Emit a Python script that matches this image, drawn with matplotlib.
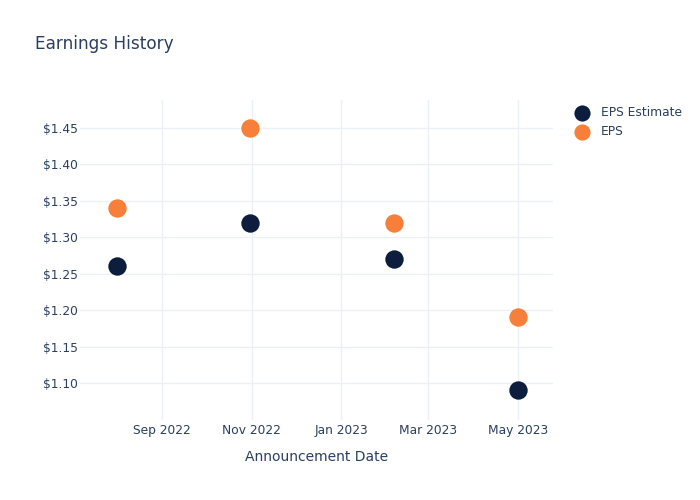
import matplotlib
matplotlib.use("Agg")
import matplotlib.pyplot as plt
import matplotlib.dates as mdates
import datetime as dt

dates = ["2022-08-01", "2022-10-31", "2023-02-06", "2023-05-01"]
eps_estimate = [1.26, 1.32, 1.27, 1.09]
eps_actual = [1.34, 1.45, 1.32, 1.19]
yticks = [1.10, 1.15, 1.20, 1.25, 1.30, 1.35, 1.40, 1.45]
xticks = ["2022-09-01", "2022-11-01", "2023-01-01", "2023-03-01", "2023-05-01"]

x = [dt.datetime.strptime(d, "%Y-%m-%d") for d in dates]
xt = [dt.datetime.strptime(d, "%Y-%m-%d") for d in xticks]

text_c = "#2a3f5f"
navy = "#0c1d3e"
orange = "#f6803a"
grid_c = "#ebf0f8"

fig = plt.figure(figsize=(7, 5), dpi=100)
ax = fig.add_axes([80/700, 80/500, (553-80)/700, (420-100)/500])

ax.scatter(x, eps_estimate, s=175, color=navy, label="EPS Estimate", zorder=3, linewidths=0)
ax.scatter(x, eps_actual, s=175, color=orange, label="EPS", zorder=3, linewidths=0)

ax.set_xlim(dt.datetime(2022, 7, 7), dt.datetime(2023, 5, 25))
ax.set_ylim(1.0495, 1.488)
ax.set_yticks(yticks)
ax.set_yticklabels([f"${v:.2f}" for v in yticks])
ax.set_xticks(xt)
ax.xaxis.set_major_formatter(mdates.DateFormatter("%b %Y"))

for s in ax.spines.values():
    s.set_visible(False)
ax.grid(True, color=grid_c, linewidth=1)
ax.set_axisbelow(True)
ax.tick_params(axis="both", length=0, labelsize=8.8, labelcolor=text_c)
ax.tick_params(axis="y", pad=1.5)
ax.tick_params(axis="x", pad=3)

ax.set_xlabel("Announcement Date", fontsize=10, color=text_c, labelpad=9.5)
fig.text(35/700, 1 - 44/500, "Earnings History", fontsize=12.2, color=text_c, va="center", ha="left")

leg = fig.legend(loc="upper left", bbox_to_anchor=(574/700, 1 - 106/500), frameon=False,
                 fontsize=8.8, labelcolor=text_c, handletextpad=0.9, borderaxespad=0,
                 borderpad=0, markerscale=0.88, labelspacing=0.5, handlelength=1.3)

fig.savefig("out.png", dpi=100)
